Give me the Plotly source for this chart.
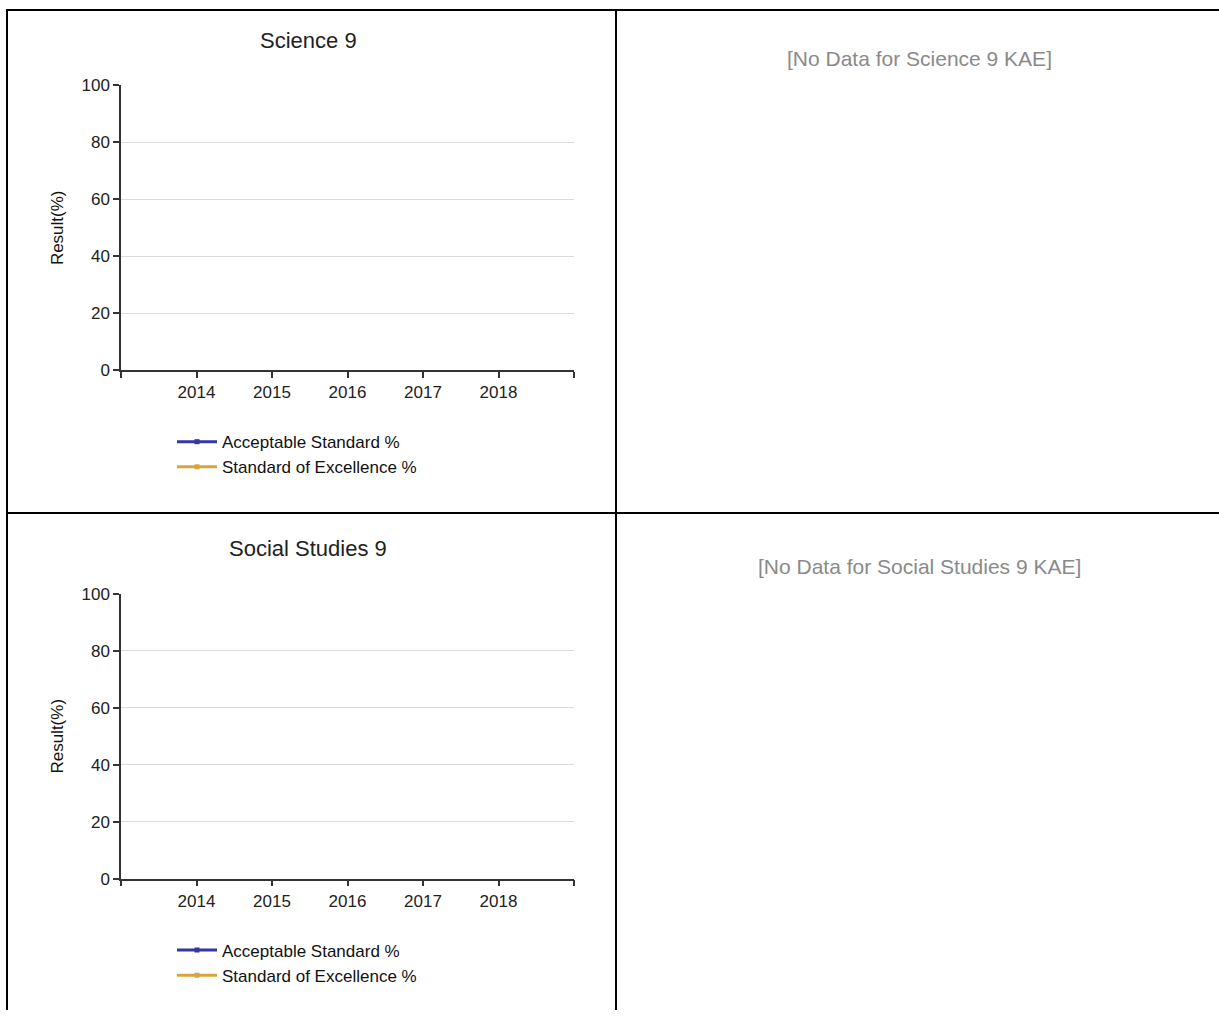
import plotly.graph_objects as go

W, H = 1219, 1020

years = [2014, 2015, 2016, 2017, 2018]
tick_years = [2013, 2014, 2015, 2016, 2017, 2018, 2019]
tick_labels = ["", "2014", "2015", "2016", "2017", "2018", ""]
y_ticks = [0, 20, 40, 60, 80, 100]

subjects = ["Science 9", "Social Studies 9"]
no_data_texts = ["[No Data for Science 9 KAE]", "[No Data for Social Studies 9 KAE]"]
series_names = ["Acceptable Standard %", "Standard of Excellence %"]
series_colors = ["#3535A3", "#D9A43C"]
# No results available for any year
acceptable_values = [[None] * 5, [None] * 5]
excellence_values = [[None] * 5, [None] * 5]

FONT = "Liberation Sans, Arial, sans-serif"


def px_x(p):
    return p / W


def px_y(p):
    return 1 - p / H


fig = go.Figure()

# layout positions (px from top of the figure) for each table row
row_tops = [-4.6, 513.5]
TITLE_OFF, NODATA_OFF, Y100_OFF, Y0_OFF, LEG_OFF = 36.7, 55.0, 82.5, 372.6, 427.6

for i, subj in enumerate(subjects):
    top = row_tops[i]
    xa = "x" if i == 0 else f"x{i+1}"
    ya = "y" if i == 0 else f"y{i+1}"
    leg = "legend" if i == 0 else f"legend{i+1}"
    for name, color, vals in zip(series_names, series_colors,
                                 [acceptable_values[i], excellence_values[i]]):
        fig.add_trace(go.Scatter(
            x=years, y=vals, name=name, mode="lines+markers",
            line=dict(color=color, width=3),
            marker=dict(color=color, size=5, symbol="square"),
            xaxis=xa, yaxis=ya, legend=leg,
            showlegend=True,
        ))
    xkey = "xaxis" if i == 0 else f"xaxis{i+1}"
    ykey = "yaxis" if i == 0 else f"yaxis{i+1}"
    fig.update_layout(**{
        xkey: dict(
            domain=[px_x(121), px_x(574)], anchor=ya, range=[2013, 2019],
            tickmode="array", tickvals=tick_years, ticktext=tick_labels,
            showline=True, linecolor="#333333", linewidth=1.5,
            ticks="outside", ticklen=6, tickcolor="#333333", tickwidth=1.5,
            showgrid=False, zeroline=False, fixedrange=True,
            tickfont=dict(family=FONT, size=17, color="#222222"),
        ),
        ykey: dict(
            domain=[px_y(top + Y0_OFF), px_y(top + Y100_OFF)], anchor=xa, range=[0, 100],
            tickmode="array", tickvals=y_ticks,
            showline=True, linecolor="#333333", linewidth=1.5,
            ticks="outside", ticklen=6, tickcolor="#333333", tickwidth=1.5,
            showgrid=True, gridcolor="#DCDCDC", gridwidth=1, zeroline=False,
            tickfont=dict(family=FONT, size=17, color="#222222"),
            title=dict(text="Result(%)", font=dict(family=FONT, size=17, color="#111111"),
                       standoff=14),
        ),
        leg: dict(
            x=px_x(172), y=px_y(top + LEG_OFF), xanchor="left", yanchor="top",
            orientation="v", bgcolor="rgba(0,0,0,0)", tracegroupgap=0,
            font=dict(family=FONT, size=17, color="#111111"),
            itemclick=False, itemdoubleclick=False, itemwidth=40,
        ),
    })
    # subject title
    fig.add_annotation(
        text=subj, xref="paper", yref="paper", x=px_x(308), y=px_y(top + TITLE_OFF),
        xanchor="center", yanchor="middle", showarrow=False,
        font=dict(family=FONT, size=22, color="#222222"),
    )
    # no-data message
    fig.add_annotation(
        text=no_data_texts[i], xref="paper", yref="paper", x=px_x(919), y=px_y(top + NODATA_OFF),
        xanchor="center", yanchor="middle", showarrow=False,
        font=dict(family=FONT, size=21, color="#8A8A8A"),
    )

# table borders
border = dict(color="#000000", width=2)
top_line = max(row_tops[0], 1)
fig.add_shape(type="line", xref="paper", yref="paper", x0=px_x(7), x1=1,
              y0=px_y(top_line), y1=px_y(top_line), line=border)
fig.add_shape(type="line", xref="paper", yref="paper", x0=px_x(7), x1=1,
              y0=px_y(row_tops[1]), y1=px_y(row_tops[1]), line=border)
fig.add_shape(type="line", xref="paper", yref="paper", x0=px_x(7), x1=px_x(7),
              y0=0, y1=px_y(top_line - 1), line=border)
fig.add_shape(type="line", xref="paper", yref="paper", x0=px_x(616), x1=px_x(616),
              y0=0, y1=px_y(top_line - 1), line=border)

fig.update_layout(
    width=W, height=H, margin=dict(l=0, r=0, t=0, b=0),
    paper_bgcolor="white", plot_bgcolor="white",
    font=dict(family=FONT), showlegend=True,
)

fig.write_html(
    "out.html",
    config={"displayModeBar": False},
    post_script=("document.documentElement.style.margin='0';"
                 "document.body.style.margin='0';"
                 "document.documentElement.style.overflow='hidden';"
                 "document.body.style.overflow='hidden';"
                 "var gd=document.getElementById('{plot_id}');"
                 "gd.style.position='fixed';gd.style.top='0px';gd.style.left='0px';"),
)
